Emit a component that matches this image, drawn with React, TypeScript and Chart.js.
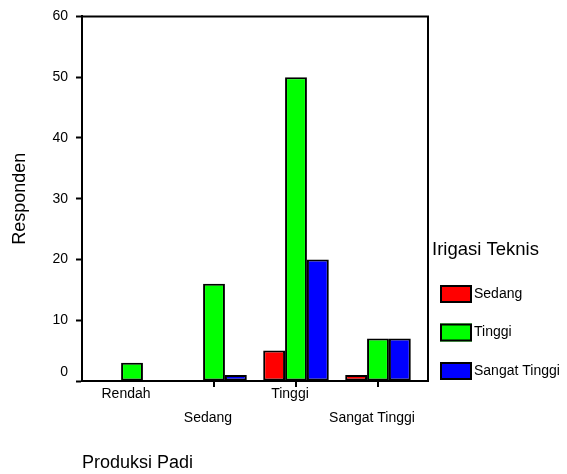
import React, { useEffect, useRef } from "react";
import { Chart, registerables } from "chart.js";

Chart.register(...registerables);

const categories = ["Rendah", "Sedang", "Tinggi", "Sangat Tinggi"];
const seriesNames = ["Sedang", "Tinggi", "Sangat Tinggi"];
const sedangValues = [0, 0, 5, 1];
const tinggiValues = [3, 16, 50, 7];
const sangatTinggiValues = [0, 1, 20, 7];
const seriesColors = ["#ff0000", "#00ff00", "#0000ff"];
const yTickValues = [0, 10, 20, 30, 40, 50, 60];
const yTitle = "Responden";
const xTitle = "Produksi Padi";
const legendTitle = "Irigasi Teknis";

const FONT = "'Liberation Sans', Arial, sans-serif";

const frameAndLegend = {
  id: "frameAndLegend",
  afterDatasetsDraw(chart: any) {
    const { ctx, chartArea } = chart;
    ctx.save();
    ctx.strokeStyle = "#000";
    ctx.lineWidth = 2;
    ctx.beginPath();
    ctx.moveTo(chartArea.left, chartArea.top);
    ctx.lineTo(chartArea.right, chartArea.top);
    ctx.lineTo(chartArea.right, chartArea.bottom);
    ctx.stroke();
    // category tick marks (the first category has none, as in the original)
    const xs = chart.scales.x;
    ctx.beginPath();
    categories.forEach((_, i) => {
      if (i === 0) return;
      const px = Math.round(xs.getPixelForValue(i));
      ctx.moveTo(px, chartArea.bottom);
      ctx.lineTo(px, chartArea.bottom + 6);
    });
    ctx.stroke();
    ctx.restore();
  },
  afterDraw(chart: any) {
    const { ctx, chartArea } = chart;
    const x0 = chartArea.right + 4;
    ctx.save();
    ctx.fillStyle = "#000";
    ctx.textAlign = "left";
    ctx.textBaseline = "middle";
    ctx.font = `18.5px ${FONT}`;
    ctx.fillText(legendTitle, x0, 250);
    chart.data.datasets.forEach((ds: any, i: number) => {
      const by = 285 + i * 38.5;
      const bx = x0 + 8;
      ctx.fillStyle = ds.backgroundColor;
      ctx.fillRect(bx, by, 32, 18);
      ctx.strokeStyle = "#000";
      ctx.lineWidth = 2;
      ctx.strokeRect(bx + 1, by + 1, 30, 16);
      ctx.fillStyle = "#000";
      ctx.font = `14px ${FONT}`;
      ctx.fillText(ds.label, bx + 34, by + 9);
    });
    ctx.restore();
  },
};

export default function App() {
  const ref = useRef<HTMLCanvasElement | null>(null);
  useEffect(() => {
    document.body.style.margin = "0";
    Chart.defaults.font.family = FONT;
    Chart.defaults.color = "#000";
    const seriesValues = [sedangValues, tinggiValues, sangatTinggiValues];
    const chart = new Chart(ref.current as HTMLCanvasElement, {
      type: "bar",
      data: {
        datasets: seriesNames.map((name, s) => ({
          label: name,
          data: categories.map((_, i) => ({ x: i, y: seriesValues[s][i] })),
          backgroundColor: seriesColors[s],
          borderColor: "#000",
          borderWidth: 2,
          borderSkipped: false,
          categoryPercentage: 0.8,
          barPercentage: 1,
        })),
      },
      options: {
        animation: false,
        responsive: false,
        maintainAspectRatio: false,
        layout: { padding: { top: 11, right: 139, left: 0, bottom: 0 } },
        plugins: {
          legend: { display: false },
          tooltip: { enabled: false },
        },
        scales: {
          x: {
            type: "linear",
            min: -0.61,
            max: 3.61,
            offset: false,
            afterBuildTicks: (scale: any) => {
              scale.ticks = categories.map((_, i) => ({ value: i }));
            },
            afterFit: (scale: any) => {
              scale.height = 93;
            },
            grid: {
              offset: false,
              drawOnChartArea: false,
              drawTicks: true,
              tickLength: 6,
              tickWidth: 2,
              tickColor: "rgba(0,0,0,0)",
            },
            border: { display: true, color: "#000", width: 2 },
            ticks: {
              autoSkip: false,
              maxRotation: 0,
              minRotation: 0,
              padding: 1,
              labelOffset: -6,
              font: { size: 14, lineHeight: "12px" },
              callback: (v: any) => {
                const i = Math.round(Number(v));
                const name = categories[i];
                if (name === undefined) return "";
                return i % 2 === 1 ? ["", "", name] : [name, ""];
              },
            },
            title: {
              display: true,
              text: xTitle,
              align: "start",
              font: { size: 18 },
              padding: { top: 0, bottom: 0 },
            },
          },
          y: {
            min: 0,
            max: 60,
            afterBuildTicks: (scale: any) => {
              scale.ticks = yTickValues.map((v) => ({ value: v }));
            },
            afterFit: (scale: any) => {
              scale.width = 82;
            },
            grid: {
              drawOnChartArea: false,
              drawTicks: true,
              tickLength: 6,
              tickWidth: 2,
              tickColor: "#000",
            },
            border: { display: true, color: "#000", width: 2 },
            ticks: {
              padding: 8,
              font: { size: 14, lineHeight: 1.2 },
              callback: (v: any) => (Number(v) === 0 ? [String(v), ""] : String(v)),
            },
            title: {
              display: true,
              text: yTitle,
              font: { size: 18 },
              padding: { top: 9, bottom: 0 },
            },
          },
        },
      },
      plugins: [frameAndLegend],
    } as any);
    return () => chart.destroy();
  }, []);
  return <canvas ref={ref} width={567} height={474} style={{ display: "block" }} />;
}
